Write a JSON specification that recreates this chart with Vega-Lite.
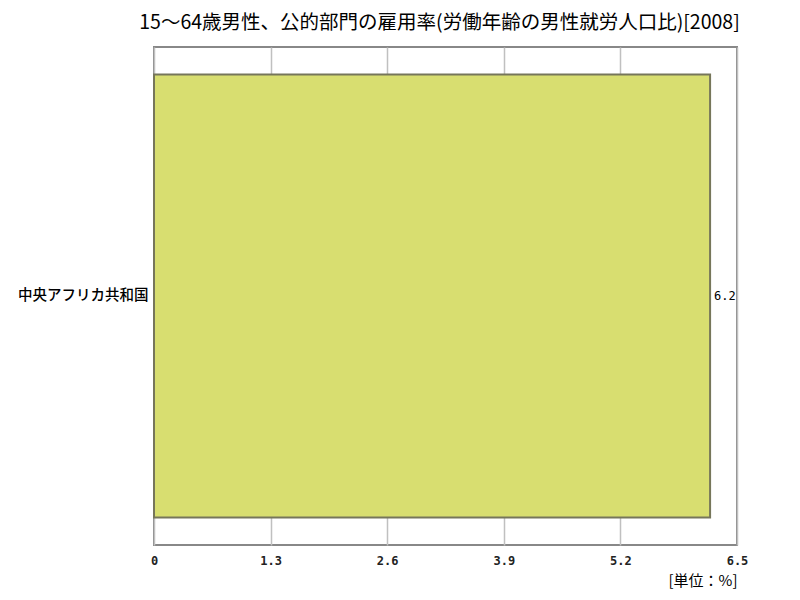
{
  "$schema": "https://vega.github.io/schema/vega-lite/v6.json",
  "autosize": "none",
  "width": 583,
  "height": 498,
  "padding": {"left": 154, "top": 47, "right": 63, "bottom": 55},
  "background": "white",
  "title": {
    "text": "15～64歳男性、公的部門の雇用率(労働年齢の男性就労人口比)[2008]",
    "font": "Noto Sans CJK JP",
    "fontSize": 19.5,
    "fontWeight": "normal",
    "color": "#000000",
    "anchor": "middle",
    "dx": -6,
    "offset": 14
  },
  "data": {
    "values": [
      {"country": "中央アフリカ共和国", "value": 6.2}
    ]
  },
  "encoding": {
    "y": {
      "field": "country",
      "type": "nominal",
      "scale": {"paddingInner": 0.11, "paddingOuter": 0.055},
      "axis": {
        "title": null,
        "ticks": false,
        "domain": false,
        "labelFont": "Noto Sans CJK JP",
        "labelFontSize": 14.5,
        "labelFontWeight": 500,
        "labelColor": "#000000",
        "labelPadding": 6
      }
    },
    "x": {
      "field": "value",
      "type": "quantitative",
      "scale": {"domain": [0, 6.5], "nice": false},
      "axis": {
        "values": [0, 1.3, 2.6, 3.9, 5.2, 6.5],
        "labelExpr": "datum.value == 0 ? '0' : format(datum.value, '.1f')",
        "title": "[単位：%]",
        "titleFont": "Noto Sans CJK JP",
        "titleFontSize": 15,
        "titleFontWeight": "normal",
        "titleColor": "#000000",
        "titleAnchor": "end",
        "titleAlign": "right",
        "titlePadding": 7,
        "ticks": false,
        "domain": false,
        "grid": true,
        "gridColor": "#c0c0c0",
        "gridWidth": 1.5,
        "labelFont": "DejaVu Sans Mono",
        "labelFontSize": 12,
        "labelFontWeight": "bold",
        "labelColor": "#222222",
        "labelPadding": 10,
        "labelFlush": false
      }
    }
  },
  "layer": [
    {
      "mark": {"type": "bar", "fill": "#d8de70", "stroke": "#76765a", "strokeWidth": 2}
    },
    {
      "mark": {"type": "text", "align": "left", "baseline": "middle", "dx": 4, "font": "DejaVu Sans Mono", "fontSize": 12, "color": "#000000"},
      "encoding": {"text": {"field": "value", "type": "quantitative", "format": ".1f"}}
    }
  ],
  "config": {
    "view": {"stroke": "#888888", "strokeWidth": 2}
  }
}
